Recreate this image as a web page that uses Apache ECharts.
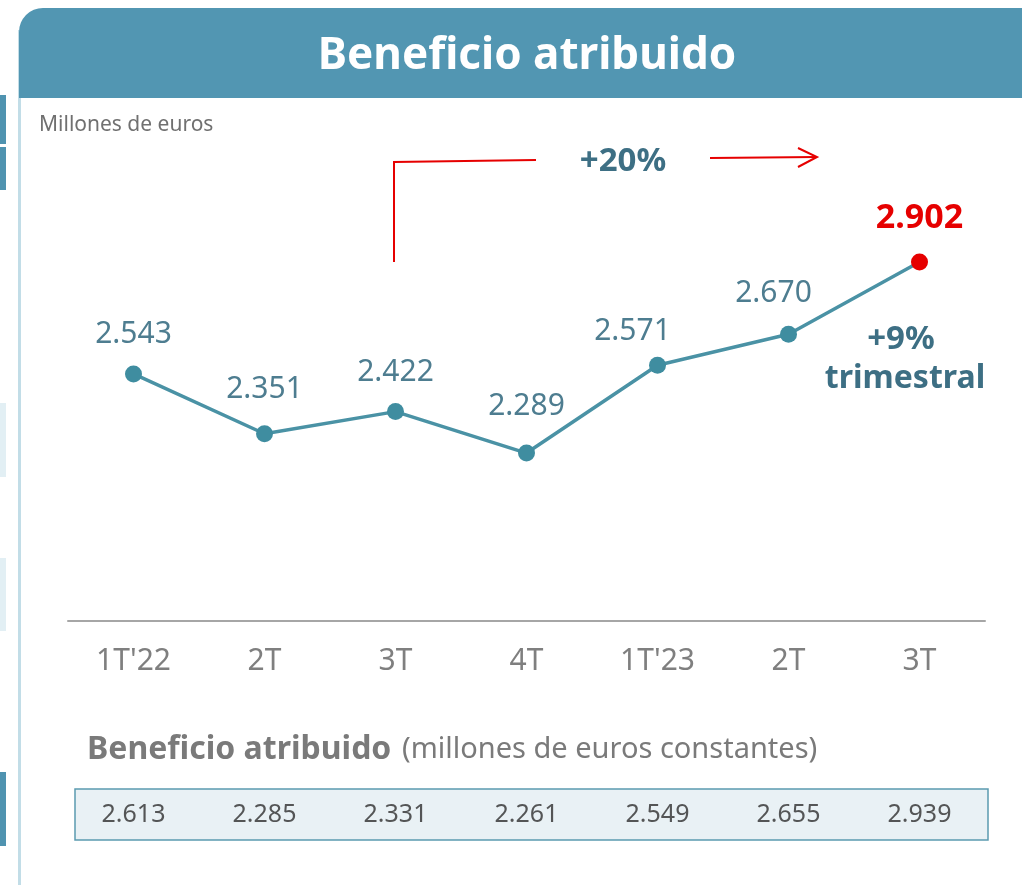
<!DOCTYPE html>
<html>
<head>
<meta charset="utf-8">
<script src="https://cdn.jsdelivr.net/npm/echarts@6/dist/echarts.min.js"></script>
<style>
  html, body { margin: 0; padding: 0; background: #fff; }
  #chart { width: 1022px; height: 885px; }
</style>
</head>
<body>
<div id="chart"></div>
<script>
const quarters = ["1T'22", '2T', '3T', '4T', "1T'23", '2T', '3T']
const profit = [2543, 2351, 2422, 2289, 2571, 2670, 2902]
const profitConstant = [2613, 2285, 2331, 2261, 2549, 2655, 2939]

const FONT = '"Noto Sans", "Open Sans", sans-serif'
const fmt = (v) => (v / 1000).toFixed(3)

// label placement tweaks, as laid out in the original slide
const labelDistance = [16, 21, 16, 23, 10, 17, 18]
const labelShiftX = [0, 0, 0, 0, -25, -15, 0]

const chart = echarts.init(document.getElementById('chart'))

const lastIdx = profit.length - 1
const lineData = profit.map((v, i) => {
  const item = {
    value: v,
    label: { distance: labelDistance[i], offset: [labelShiftX[i], 0] },
  }
  if (i === lastIdx) {
    item.itemStyle = { color: '#e60000' }
    Object.assign(item.label, { color: '#e60000', fontWeight: 'bold', fontSize: 34 })
  }
  return item
})

chart.setOption({
  animation: false,
  grid: [
    { left: 68, right: 37, top: 231.5, bottom: 264 },
    { left: 68, right: 37, top: 789, height: 51 },
  ],
  xAxis: [
    {
      gridIndex: 0,
      type: 'category',
      data: quarters,
      boundaryGap: true,
      axisLine: { lineStyle: { color: '#a6a6a6', width: 2 } },
      axisTick: { show: false },
      axisLabel: { color: '#7f7f7f', fontSize: 30, fontFamily: FONT, margin: 25 },
    },
    {
      gridIndex: 1,
      type: 'category',
      data: quarters,
      show: false,
    },
  ],
  yAxis: [
    { gridIndex: 0, type: 'value', min: 1750, max: 3000, show: false },
    { gridIndex: 1, type: 'value', min: 0, max: 1, show: false },
  ],
  series: [
    {
      type: 'line',
      xAxisIndex: 0,
      yAxisIndex: 0,
      data: lineData,
      z: 5,
      symbol: 'circle',
      symbolSize: 17,
      lineStyle: { color: '#4a92a5', width: 3.5 },
      itemStyle: { color: '#3f8da0' },
      label: {
        show: true,
        position: 'top',
        color: '#4e7d90',
        fontSize: 30,
        fontFamily: FONT,
        formatter: (p) => fmt(p.value),
      },
    },
    {
      type: 'scatter',
      xAxisIndex: 1,
      yAxisIndex: 1,
      z: 5,
      data: profitConstant.map((v, i) => [i, 0.5, v]),
      symbolSize: 1,
      itemStyle: { color: 'transparent' },
      label: {
        show: true,
        position: 'inside',
        color: '#2e2e2e',
        fontSize: 25,
        fontFamily: FONT,
        formatter: (p) => fmt(p.value[2]),
      },
    },
  ],
  graphic: [
    // page side decorations
    { type: 'rect', shape: { x: 18, y: 30, width: 3, height: 855 }, style: { fill: '#c2dde7' } },
    { type: 'rect', shape: { x: 0, y: 95, width: 6, height: 49 }, style: { fill: '#4f93b0' } },
    { type: 'rect', shape: { x: 0, y: 147, width: 6, height: 43 }, style: { fill: '#4f93b0' } },
    { type: 'rect', shape: { x: 0, y: 403, width: 6, height: 74 }, style: { fill: '#e2eff4' } },
    { type: 'rect', shape: { x: 0, y: 558, width: 6, height: 73 }, style: { fill: '#e2eff4' } },
    { type: 'rect', shape: { x: 0, y: 772, width: 6, height: 74 }, style: { fill: '#4f93b0' } },
    // header
    { type: 'rect', shape: { x: 19, y: 8, width: 1003, height: 90, r: [24, 0, 0, 0] }, style: { fill: '#5296b2' } },
    {
      type: 'text', x: 527, y: 56,
      style: { text: 'Beneficio atribuido', fill: '#fff', font: `bold 44px ${FONT}`, textAlign: 'center', textVerticalAlign: 'middle' },
    },
    {
      type: 'text', x: 39, y: 125,
      style: { text: 'Millones de euros', fill: '#707070', font: `21px ${FONT}`, textAlign: 'left', textVerticalAlign: 'middle' },
    },
    // +20% bracket and arrow
    { type: 'polyline', shape: { points: [[394, 262], [394, 162], [536, 160]] }, style: { stroke: '#e60000', lineWidth: 2, fill: null } },
    { type: 'line', shape: { x1: 710, y1: 158, x2: 817, y2: 157 }, style: { stroke: '#e60000', lineWidth: 2 } },
    { type: 'polyline', shape: { points: [[798, 148], [817, 157], [798, 167]] }, style: { stroke: '#e60000', lineWidth: 2, fill: null } },
    {
      type: 'text', x: 623, y: 162,
      style: { text: '+20%', fill: '#3d6f84', font: `bold 33px ${FONT}`, textAlign: 'center', textVerticalAlign: 'middle' },
    },
    {
      type: 'text', x: 901, y: 340,
      style: { text: '+9%', fill: '#3d6f84', font: `bold 33px ${FONT}`, textAlign: 'center', textVerticalAlign: 'middle' },
    },
    {
      type: 'text', x: 905, y: 379,
      style: { text: 'trimestral', fill: '#3d6f84', font: `bold 32px ${FONT}`, textAlign: 'center', textVerticalAlign: 'middle' },
    },
    // constant-euro row
    {
      type: 'text', x: 87, y: 750,
      style: { text: 'Beneficio atribuido', fill: '#7a7a7a', font: `bold 32px ${FONT}`, textAlign: 'left', textVerticalAlign: 'middle' },
    },
    {
      type: 'text', x: 402, y: 750,
      style: { text: '(millones de euros constantes)', fill: '#7a7a7a', font: `29px ${FONT}`, textAlign: 'left', textVerticalAlign: 'middle' },
    },
    {
      type: 'rect', z: -1, shape: { x: 75, y: 789, width: 913, height: 51 },
      style: { fill: '#e9f1f5', stroke: '#5b9bb0', lineWidth: 1.5 },
    },
  ],
})
</script>
</body>
</html>
